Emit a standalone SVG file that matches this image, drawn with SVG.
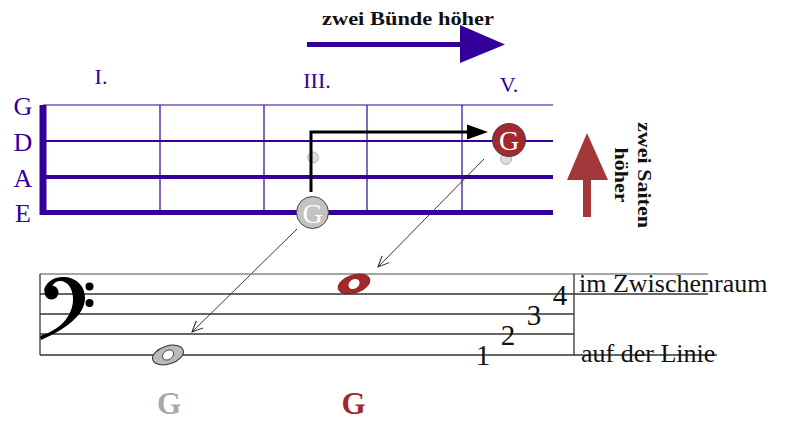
<svg xmlns="http://www.w3.org/2000/svg" width="794" height="421" viewBox="0 0 794 421">
<defs>
<style>
.purp{fill:#330099;font-family:"Liberation Serif",serif}
.str{stroke:#330099;fill:none}
.bold{font-family:"Liberation Serif",serif;font-weight:bold}
.serif{font-family:"Liberation Serif",serif}
.staff{stroke:#333;stroke-width:1.3;fill:none}
.thin{stroke:#222;stroke-width:0.9;fill:none}
</style>
<marker id="open" viewBox="0 0 12 12" refX="11" refY="6" markerWidth="12" markerHeight="12" markerUnits="userSpaceOnUse" orient="auto">
<polyline points="0,1 11,6 0,11" fill="none" stroke="#222" stroke-width="1"/>
</marker>
</defs>
<rect width="794" height="421" fill="#fff"/>

<g id="top-arrow">
<text class="bold" x="408" y="25" font-size="18" text-anchor="middle" textLength="172" lengthAdjust="spacingAndGlyphs" fill="#111">zwei Bünde höher</text>
<rect x="307" y="42" width="158" height="5" fill="#330099"/>
<polygon points="460,25 505,44.5 460,63" fill="#330099"/>
</g>

<g id="fret-labels" class="purp" font-size="22" text-anchor="middle">
<text x="101" y="84">I.</text>
<text x="317" y="88">III.</text>
<text x="509" y="92">V.</text>
</g>

<g id="string-labels" class="purp" font-size="26" text-anchor="middle">
<text x="23" y="115">G</text>
<text x="23" y="151">D</text>
<text x="23" y="187">A</text>
<text x="23" y="222">E</text>
</g>

<g id="fretboard">
<line class="str" x1="43" y1="105" x2="553" y2="105" stroke-width="1.2"/>
<line class="str" x1="43" y1="141" x2="553" y2="141" stroke-width="2.2"/>
<line class="str" x1="43" y1="177" x2="553" y2="177" stroke-width="4"/>
<line class="str" x1="43" y1="212.5" x2="553" y2="212.5" stroke-width="5"/>
<line class="str" x1="43" y1="105" x2="43" y2="215" stroke-width="7"/>
<line class="str" x1="160" y1="105" x2="160" y2="212" stroke-width="1.2"/>
<line class="str" x1="264" y1="105" x2="264" y2="212" stroke-width="1.2"/>
<line class="str" x1="367" y1="105" x2="367" y2="212" stroke-width="1.2"/>
<line class="str" x1="462" y1="105" x2="462" y2="212" stroke-width="1.2"/>
</g>

<g id="ghost-dots">
<circle cx="313" cy="157.5" r="5.5" fill="#ddd" stroke="#aaa" stroke-width="0.8"/>
<circle cx="506" cy="159" r="5.5" fill="#ddd" stroke="#aaa" stroke-width="0.8"/>
</g>

<g id="connectors">
<polyline points="311,192 311,132 470,132" fill="none" stroke="#000" stroke-width="3"/>
<polygon points="467,124.5 488,132 467,139.5" fill="#000"/>
<line class="thin" x1="297" y1="229" x2="192" y2="332" marker-end="url(#open)"/>
<line class="thin" x1="484" y1="159" x2="378" y2="267" marker-end="url(#open)"/>
</g>

<g id="gray-G">
<circle cx="312.5" cy="212.5" r="16" fill="#c3c3c0" stroke="#444" stroke-width="1"/>
<text class="serif" x="312.5" y="222.5" font-size="28" text-anchor="middle" fill="#fff">G</text>
</g>

<g id="red-G">
<circle cx="509" cy="140" r="16.5" fill="#a2292f" stroke="#444" stroke-width="1"/>
<text class="serif" x="509" y="150" font-size="28" text-anchor="middle" fill="#fff">G</text>
</g>

<g id="up-arrow">
<rect x="583" y="178" width="8" height="39" fill="#a3363b"/>
<polygon points="567,180 587,133 608,180" fill="#a3363b"/>
<g transform="translate(640,175) rotate(90)">
<text class="bold" x="0" y="2" font-size="19" text-anchor="middle" textLength="106" lengthAdjust="spacingAndGlyphs" fill="#111">zwei Saiten</text>
<text class="bold" x="0" y="25" font-size="18" text-anchor="middle" textLength="55" lengthAdjust="spacingAndGlyphs" fill="#111">höher</text>
</g>
</g>

<g id="staff">
<line x1="40" y1="274" x2="708" y2="274" stroke="#888" stroke-width="1.5"/>
<line class="staff" x1="40" y1="294" x2="708" y2="294"/>
<line class="staff" x1="40" y1="314" x2="574" y2="314"/>
<line class="staff" x1="40" y1="334" x2="574" y2="334"/>
<line class="staff" x1="40" y1="355" x2="717" y2="355"/>
<line class="staff" x1="40" y1="274" x2="40" y2="355"/>
<line class="staff" x1="574" y1="274" x2="574" y2="355"/>
</g>

<g id="bass-clef" fill="#000">
<path d="M41,340 C64,330 85,316 85,298 C85,285 75,277 63,277 C53,277 45,283 44,291 L50,291 C52,285 55,281 60,281 C68,281 73,289 73,299 C73,316 60,330 40,336 Z"/>
<circle cx="51.5" cy="292.5" r="7"/>
<circle cx="89.5" cy="286.5" r="4"/>
<circle cx="89.5" cy="303" r="4"/>
</g>

<g id="note-gray">
<ellipse cx="168" cy="355" rx="16" ry="9" transform="rotate(-18 168 355)" fill="#b9b9b9" stroke="#333" stroke-width="1"/>
<ellipse cx="168" cy="355" rx="6" ry="4.5" transform="rotate(-35 168 355)" fill="#fff" stroke="#333" stroke-width="0.8"/>
</g>

<g id="note-red">
<ellipse cx="354" cy="284" rx="16.5" ry="9" transform="rotate(-18 354 284)" fill="#a3282e" stroke="#7a1a1e" stroke-width="0.8"/>
<ellipse cx="354" cy="284" rx="6" ry="4.5" transform="rotate(-35 354 284)" fill="#fff"/>
</g>

<g id="numbers" class="serif" font-size="29" fill="#111" text-anchor="middle">
<text x="483" y="365">1</text>
<text x="508" y="345">2</text>
<text x="534" y="325">3</text>
<text x="560" y="305">4</text>
</g>

<g id="staff-labels" class="serif" font-size="26" fill="#111">
<text x="579" y="292">im Zwischenraum</text>
<text x="581" y="362">auf der Linie</text>
</g>

<g id="note-names" class="bold" font-size="31" text-anchor="middle">
<text x="169" y="414" fill="#a8a8a8">G</text>
<text x="353.5" y="414" fill="#a3282e">G</text>
</g>
</svg>
